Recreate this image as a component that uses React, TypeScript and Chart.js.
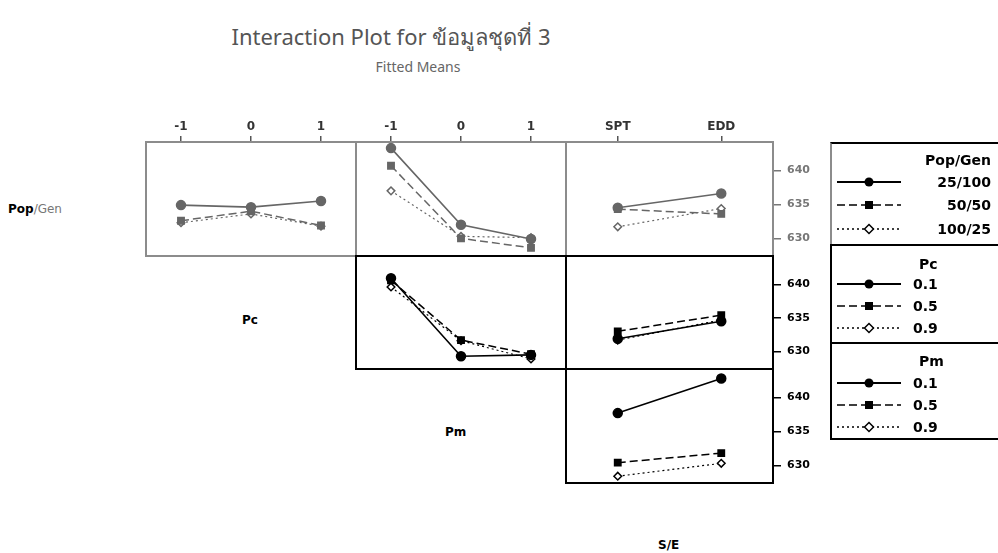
import React, { useEffect, useRef } from "react";
import { Chart, registerables } from "chart.js";

Chart.register(...registerables);

// Factor levels on the x axes
const pcLabels = ["-1", "0", "1"];
const pmLabels = ["-1", "0", "1"];
const seLabels = ["SPT", "EDD"];

// Trace factor levels
const popGenLevels = ["25/100", "50/50", "100/25"];
const pcLevels = ["0.1", "0.5", "0.9"];
const pmLevels = ["0.1", "0.5", "0.9"];

// Shared response axis
const yMin = 627.4;
const yMax = 644.2;
const yTicks = [630, 635, 640];

// Fitted means, one row per trace level
const popGenByPc = [
  [634.9, 634.6, 635.5],
  [632.6, 634.0, 631.9],
  [632.3, 633.6, 631.8],
];
const popGenByPm = [
  [643.3, 632.0, 629.9],
  [640.7, 630.0, 628.6],
  [637.0, 630.3, 630.1],
];
const popGenBySE = [
  [634.5, 636.6],
  [634.3, 633.6],
  [631.7, 634.4],
];
const pcByPm = [
  [640.9, 629.3, 629.5],
  [640.6, 631.7, 629.6],
  [639.6, 631.6, 628.9],
];
const pcBySE = [
  [631.9, 634.5],
  [633.0, 635.4],
  [631.7, 634.7],
];
const pmBySE = [
  [637.7, 642.8],
  [630.4, 631.8],
  [628.4, 630.3],
];

const GREY_LINE = "#666666";
const GREY_FRAME = "#8c8c8c";
const BLACK = "#000000";
const TOP = 32;
const RIGHT = 52;
const FONT = "'DejaVu Sans', Verdana, sans-serif";

const colX = [146, 356, 566, 773];
const rowY = [142, 256, 369, 483];

type PanelProps = {
  row: number;
  col: number;
  labels: string[];
  values: number[][];
  dark: boolean;
  showTop: boolean;
  showRight: boolean;
};

const lineStyles = [
  { dash: [] as number[], point: "circle", radius: 4.5, width: 1.6, fill: true },
  { dash: [8, 4], point: "rect", radius: 4.5, width: 1.5, fill: true },
  { dash: [2, 3], point: "rectRot", radius: 3.8, width: 1.2, fill: false },
];

// Keep the plot area fixed: no extra room reserved for edge tick labels
const noScalePadding = (s: any) => {
  s.paddingTop = 0;
  s.paddingBottom = 0;
  s.paddingLeft = 0;
  s.paddingRight = 0;
};

function Panel({ row, col, labels, values, dark, showTop, showRight }: PanelProps) {
  const ref = useRef<HTMLCanvasElement | null>(null);
  const x = colX[col];
  const y = rowY[row];
  const w = colX[col + 1] - x;
  const h = rowY[row + 1] - y;
  const cw = w + (showRight ? RIGHT : 0);
  const ch = h + (showTop ? TOP : 0);
  const lineColor = dark ? BLACK : GREY_LINE;
  const tickColor = dark ? "#000" : "#777";

  useEffect(() => {
    if (!ref.current) return;
    const chart = new Chart(ref.current, {
      type: "line",
      data: {
        labels,
        datasets: values.map((vals, i) => {
          const s = lineStyles[i];
          return {
            data: vals,
            borderColor: lineColor,
            backgroundColor: lineColor,
            borderDash: s.dash,
            borderWidth: s.width,
            pointStyle: s.point as any,
            pointRadius: s.radius,
            pointBackgroundColor: s.fill ? lineColor : "#ffffff",
            pointBorderColor: lineColor,
            pointBorderWidth: 1.5,
            tension: 0,
            clip: false as any,
          };
        }),
      },
      options: {
        animation: false,
        responsive: false,
        layout: { padding: 0, autoPadding: false },
        plugins: { legend: { display: false }, tooltip: { enabled: false } },
        scales: {
          x: {
            type: "category",
            offset: true,
            position: "top",
            display: showTop,
            border: { display: false },
            grid: {
              drawOnChartArea: false,
              drawTicks: true,
              tickLength: 6,
              color: "#555",
              lineWidth: 1.5,
            },
            ticks: {
              color: "#333",
              padding: 2,
              maxRotation: 0,
              font: { family: FONT, size: 12, weight: "bold" },
            },
            afterFit: (s: any) => {
              if (showTop) s.height = TOP;
              noScalePadding(s);
            },
          },
          y: {
            type: "linear",
            position: "right",
            min: yMin,
            max: yMax,
            bounds: "data",
            display: showRight,
            border: { display: false },
            grid: {
              drawOnChartArea: false,
              drawTicks: true,
              tickLength: 8,
              color: tickColor,
              lineWidth: 1.5,
            },
            afterBuildTicks: (s: any) => {
              s.ticks = yTicks.map((v) => ({ value: v }));
              s.min = yMin;
              s.max = yMax;
            },
            ticks: {
              color: tickColor,
              padding: 6,
              font: { family: FONT, size: 11, weight: "bold" },
            },
            afterFit: (s: any) => {
              if (showRight) s.width = RIGHT;
              noScalePadding(s);
            },
          },
        },
      },
    });
    return () => chart.destroy();
  }, []);

  return (
    <>
      <canvas
        ref={ref}
        width={cw}
        height={ch}
        style={{
          position: "absolute",
          left: x,
          top: y - (showTop ? TOP : 0),
          width: cw,
          height: ch,
        }}
      />
      <div
        style={{
          position: "absolute",
          left: x - 1,
          top: y - 1,
          width: w + 2,
          height: h + 2,
          boxSizing: "border-box",
          border: `2px solid ${dark ? BLACK : GREY_FRAME}`,
          pointerEvents: "none",
        }}
      />
    </>
  );
}

function Sample({ style, color }: { style: number; color: string }) {
  const s = lineStyles[style];
  const dash = s.dash.length ? s.dash.join(" ") : undefined;
  return (
    <svg width={64} height={14} style={{ display: "block" }}>
      <line x1={0} y1={7} x2={64} y2={7} stroke={color} strokeWidth={s.width + 0.2} strokeDasharray={dash} />
      {style === 0 && <circle cx={32} cy={7} r={4.5} fill={color} />}
      {style === 1 && <rect x={28} y={3} width={8} height={8} fill={color} />}
      {style === 2 && (
        <polygon points="32,2.5 36.5,7 32,11.5 27.5,7" fill="#fff" stroke={color} strokeWidth={1.5} />
      )}
    </svg>
  );
}

type LegendGroupProps = {
  title: string;
  levels: string[];
  top: number;
  height: number;
  entryY: number[];
  titleY: number;
  rightAlign: boolean;
  frame: string;
};

function LegendGroup({ title, levels, top, height, entryY, titleY, rightAlign, frame }: LegendGroupProps) {
  const text: React.CSSProperties = {
    position: "absolute",
    fontFamily: FONT,
    fontWeight: "bold",
    fontSize: 14,
    lineHeight: "16px",
    color: "#000",
    whiteSpace: "nowrap",
  };
  return (
    <div
      style={{
        position: "absolute",
        left: 830,
        top,
        width: 180,
        height,
        boxSizing: "border-box",
        borderLeft: `2px solid ${frame}`,
        borderTop: `2px solid ${BLACK}`,
      }}
    >
      <div
        style={{
          ...text,
          top: titleY - top - 8,
          ...(rightAlign ? { right: 180 - 161 } : { left: 87 }),
        }}
      >
        {title}
      </div>
      {levels.map((lv, i) => (
        <React.Fragment key={lv}>
          <div style={{ position: "absolute", left: 5, top: entryY[i] - top - 7 }}>
            <Sample style={i} color={BLACK} />
          </div>
          <div
            style={{
              ...text,
              top: entryY[i] - top - 8,
              ...(rightAlign ? { right: 180 - 161 } : { left: 81 }),
            }}
          >
            {lv}
          </div>
        </React.Fragment>
      ))}
    </div>
  );
}

export default function App() {
  const label: React.CSSProperties = {
    position: "absolute",
    fontFamily: FONT,
    fontSize: 12,
    fontWeight: "bold",
    color: "#000",
    whiteSpace: "nowrap",
  };
  return (
    <div
      style={{
        position: "absolute",
        left: 0,
        top: 0,
        width: 998,
        height: 553,
        background: "#fff",
        overflow: "hidden",
      }}
    >
      <div
        style={{
          position: "absolute",
          left: 0,
          width: 782,
          top: 20,
          textAlign: "center",
          fontFamily: "'Noto Sans', 'Open Sans', sans-serif",
          fontSize: 22,
          color: "#555",
          whiteSpace: "nowrap",
        }}
      >
        Interaction Plot for ข้อมูลชุดที่ 3
      </div>
      <div
        style={{
          position: "absolute",
          left: 0,
          width: 836,
          top: 57,
          textAlign: "center",
          fontFamily: "'Noto Sans', 'Open Sans', sans-serif",
          fontSize: 14,
          color: "#666",
        }}
      >
        Fitted Means
      </div>

      <div style={{ ...label, left: 8, top: 202 }}>
        Pop<span style={{ fontWeight: "normal", color: "#777" }}>/Gen</span>
      </div>
      <div style={{ ...label, left: 242, top: 313 }}>Pc</div>
      <div style={{ ...label, left: 445, top: 425 }}>Pm</div>
      <div style={{ ...label, left: 658, top: 538 }}>S/E</div>

      <Panel row={0} col={0} labels={pcLabels} values={popGenByPc} dark={false} showTop showRight={false} />
      <Panel row={0} col={1} labels={pmLabels} values={popGenByPm} dark={false} showTop showRight={false} />
      <Panel row={0} col={2} labels={seLabels} values={popGenBySE} dark={false} showTop showRight />
      <Panel row={1} col={1} labels={pmLabels} values={pcByPm} dark showTop={false} showRight={false} />
      <Panel row={1} col={2} labels={seLabels} values={pcBySE} dark showTop={false} showRight />
      <Panel row={2} col={2} labels={seLabels} values={pmBySE} dark showTop={false} showRight />

      <LegendGroup
        title="Pop/Gen"
        levels={popGenLevels}
        top={142}
        height={102}
        titleY={158}
        entryY={[180, 203, 227]}
        rightAlign
        frame={GREY_FRAME}
      />
      <LegendGroup
        title="Pc"
        levels={pcLevels}
        top={244}
        height={98}
        titleY={262}
        entryY={[282, 304, 326]}
        rightAlign={false}
        frame={BLACK}
      />
      <LegendGroup
        title="Pm"
        levels={pmLevels}
        top={342}
        height={97}
        titleY={359}
        entryY={[381, 403, 425]}
        rightAlign={false}
        frame={BLACK}
      />
      <div
        style={{
          position: "absolute",
          left: 830,
          top: 438,
          width: 180,
          borderTop: `2px solid ${BLACK}`,
        }}
      />
    </div>
  );
}
